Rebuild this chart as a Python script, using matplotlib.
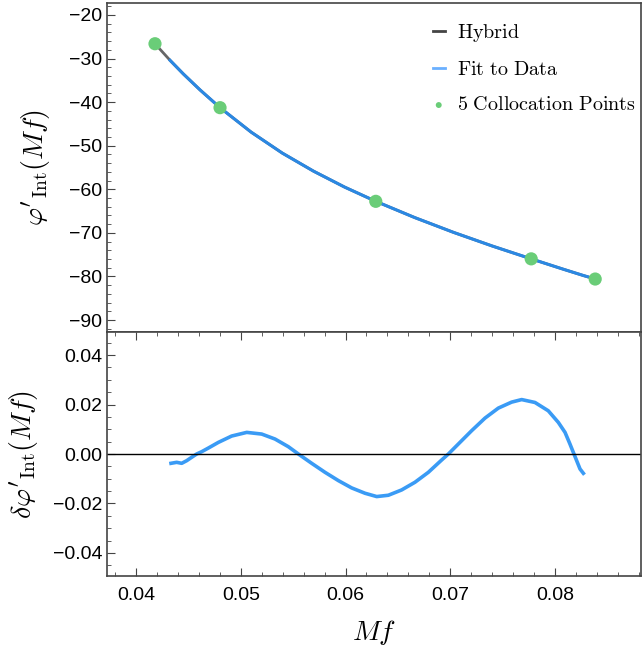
import numpy as np
import matplotlib
matplotlib.use('Agg')
import matplotlib.pyplot as plt
from matplotlib.ticker import MultipleLocator

plt.rcParams['font.family'] = ['Liberation Sans', 'DejaVu Sans']
plt.rcParams['mathtext.fontset'] = 'cm'

# hybrid curve
hyb_x = [0.04181, 0.04325, 0.04452, 0.04611, 0.04802, 0.05099, 0.05397, 0.05694,
         0.05992, 0.06289, 0.06660, 0.07031, 0.07402, 0.07773, 0.08081, 0.08272,
         0.08384]
hyb_y = [-26.60, -30.41, -33.54, -37.19, -41.27, -46.88, -51.70, -55.83,
         -59.50, -62.76, -66.48, -69.88, -73.02, -75.96, -78.35, -79.79,
         -80.59]

# fit to data, covers a slightly shorter range
fit_x = [0.04325, 0.04452, 0.04611, 0.04802, 0.05099, 0.05397, 0.05694,
         0.05992, 0.06289, 0.06660, 0.07031, 0.07402, 0.07773, 0.08081, 0.08272,
         0.08310]
fit_y = [-30.41, -33.54, -37.19, -41.27, -46.88, -51.70, -55.83,
         -59.50, -62.76, -66.48, -69.88, -73.02, -75.96, -78.35, -79.79,
         -80.05]

# collocation points
col_x = [0.04181, 0.04802, 0.06289, 0.07773, 0.08384]
col_y = [-26.60, -41.27, -62.76, -75.96, -80.59]

# residual fit - data
res_x = [0.04334, 0.04388, 0.04436, 0.04484, 0.04531, 0.04579, 0.04627, 0.04691,
         0.04786, 0.04913, 0.05057, 0.05200, 0.05327, 0.05454, 0.05550, 0.05677,
         0.05804, 0.05932, 0.06059, 0.06186, 0.06298, 0.06409, 0.06536, 0.06663,
         0.06791, 0.06918, 0.06982, 0.07077, 0.07204, 0.07332, 0.07459, 0.07586,
         0.07682, 0.07809, 0.07936, 0.08032, 0.08096, 0.08143, 0.08175, 0.08207,
         0.08239, 0.08271]
res_y = [-0.00376, -0.00336, -0.00376, -0.00269, -0.00134, 0.00000, 0.00094, 0.00242,
         0.00470, 0.00726, 0.00874, 0.00806, 0.00605, 0.00296, 0.00000, -0.00376,
         -0.00739, -0.01075, -0.01371, -0.01586, -0.01720, -0.01667, -0.01452, -0.01142,
         -0.00739, -0.00242, 0.00000, 0.00403, 0.00941, 0.01452, 0.01855, 0.02097,
         0.02200, 0.02083, 0.01747, 0.01277, 0.00874, 0.00403, 0.00067, -0.00269,
         -0.00605, -0.00780]

fig = plt.figure(figsize=(6.42, 6.49), dpi=100)
ax1 = fig.add_axes([0.1667, 0.4884, 0.8317, 0.507])
ax2 = fig.add_axes([0.1667, 0.1125, 0.8317, 0.3759], sharex=ax1)

ax1.plot(hyb_x, hyb_y, color='#666666', lw=2, label=r'$\mathrm{Hybrid}$', zorder=2)
ax1.plot(fit_x, fit_y, color='#2b88e3', lw=2.2, label=r'$\mathrm{Fit\ to\ Data}$', zorder=3)
ax1.scatter(col_x, col_y, s=90, color='#6acd78', edgecolors='none', zorder=4,
            label=r'$\mathrm{5\ Collocation\ Points}$')
h, l = ax1.get_legend_handles_labels()
h[0] = plt.Line2D([], [], color='#444444', lw=2)
h[1] = plt.Line2D([], [], color='#6ab0ff', lw=2)
ax1.legend(h, l, loc='upper right', frameon=False, fontsize=14.5, handlelength=0.6,
           handletextpad=0.6, labelspacing=0.8, markerscale=0.45,
           bbox_to_anchor=(1.024, 0.997))

ax1.set_ylim(-92.75, -17.25)
ax1.yaxis.set_major_locator(MultipleLocator(10))
ax1.yaxis.set_minor_locator(MultipleLocator(2))
ax1.set_ylabel(r"$\varphi'_{\mathrm{Int}}(Mf)$", fontsize=20, labelpad=12)
ax1.tick_params(axis='x', which='both', bottom=False, labelbottom=False)

ax2.plot(res_x, res_y, color='#3a9bf5', lw=2.6)
ax2.axhline(0, color='black', lw=1)
ax2.set_ylim(-0.0493, 0.0493)
ax2.yaxis.set_major_locator(MultipleLocator(0.02))
ax2.yaxis.set_minor_locator(MultipleLocator(0.005))
ax2.set_ylabel(r"$\delta\varphi'_{\mathrm{Int}}(Mf)$", fontsize=20, labelpad=9)
ax2.set_xlabel(r"$Mf$", fontsize=20, labelpad=10)
ax2.set_xlim(0.03723, 0.08821)
ax2.xaxis.set_major_locator(MultipleLocator(0.01))
ax2.xaxis.set_minor_locator(MultipleLocator(0.002))
ax2.yaxis.set_major_formatter(plt.FuncFormatter(lambda v, p: f'{v:.2f}'.replace('-', '\u2212')))

for ax in (ax1, ax2):
    for s in ax.spines.values():
        s.set_color('#444444')
        s.set_linewidth(1.2)
    ax.tick_params(which='both', direction='in', labelsize=14, color='#444444', right=False)
    ax.tick_params(which='major', length=6)
    ax.tick_params(which='minor', length=3)
ax2.tick_params(which='both', top=True)
ax2.tick_params(axis='x', pad=8)

fig.savefig('out.png', dpi=100)
